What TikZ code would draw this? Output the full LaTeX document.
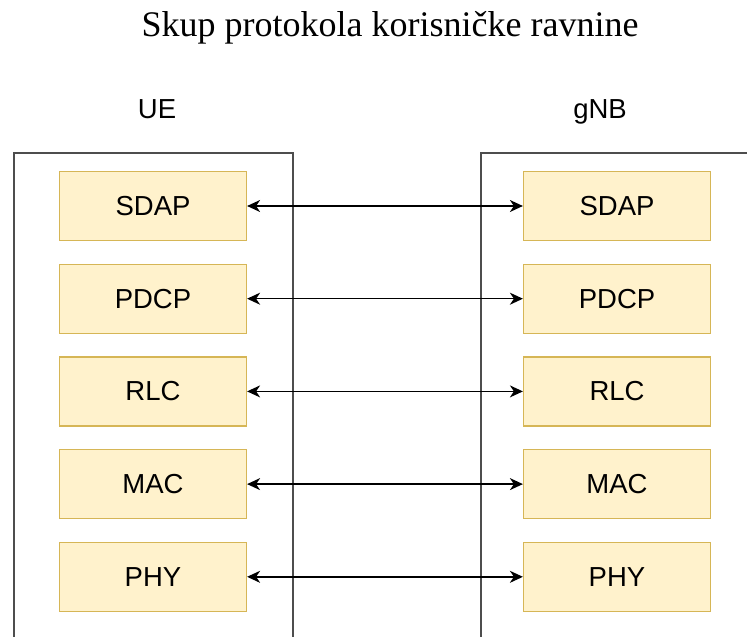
\documentclass[tikz,border=0pt]{standalone}
\usepackage{fontspec}
\setmainfont{Liberation Sans}
\newfontfamily\titlefont{Liberation Serif}
\usepackage{tikz}
\usetikzlibrary{arrows.meta,positioning}
\usepackage{xcolor}
\definecolor{layerfill}{HTML}{FFF2CC}
\definecolor{layerdraw}{HTML}{D6B656}
\definecolor{frame}{HTML}{4D4D4D}

\begin{document}
\begin{tikzpicture}[
      x=1pt, y=-1pt,
      >={Stealth[length=13pt,width=12pt,inset=4pt]},
      font=\fontsize{27.5}{32}\selectfont,
      layer/.style={draw=layerdraw, fill=layerfill, line width=1.2pt,
                    minimum width=187pt, minimum height=69pt, inner sep=0pt},
      entity/.style={draw=frame, line width=1.8pt, anchor=north west,
                     minimum height=500pt, inner sep=0pt},
      link/.style={<->, line width=1.5pt, black},
      node distance=22.5pt,
    ]
    \useasboundingbox (0,0) rectangle (747,637);
    \clip (0,0) rectangle (747,637);

    % title and entity names
    \node[font=\titlefont\fontsize{36}{42}\selectfont] (title) at (390,28)
      {Skup protokola korisničke ravnine};
    \node[anchor=base] (ue) at (157,118) {UE};
    \node[anchor=base] (gnb) at (600,118) {gNB};

    % outer frames (cut by the picture edge)
    \node[entity, minimum width=279pt] (ueBox) at (13,152) {};
    \node[entity, minimum width=300pt] (gnbBox) at (480,152) {};

    % UE stack
    \node[layer] (ueSdap) at (153,206) {SDAP};
    \node[layer, below=of ueSdap] (uePdcp) {PDCP};
    \node[layer, below=of uePdcp] (ueRlc) {RLC};
    \node[layer, below=of ueRlc] (ueMac) {MAC};
    \node[layer, below=of ueMac] (uePhy) {PHY};

    % gNB stack
    \node[layer] (gnbSdap) at (617,206) {SDAP};
    \node[layer, below=of gnbSdap] (gnbPdcp) {PDCP};
    \node[layer, below=of gnbPdcp] (gnbRlc) {RLC};
    \node[layer, below=of gnbRlc] (gnbMac) {MAC};
    \node[layer, below=of gnbMac] (gnbPhy) {PHY};

    % peer links
    \draw[link] (ueSdap) -- (gnbSdap);
    \draw[link] (uePdcp) -- (gnbPdcp);
    \draw[link] (ueRlc) -- (gnbRlc);
    \draw[link] (ueMac) -- (gnbMac);
    \draw[link] (uePhy) -- (gnbPhy);
  \end{tikzpicture}
\end{document}
